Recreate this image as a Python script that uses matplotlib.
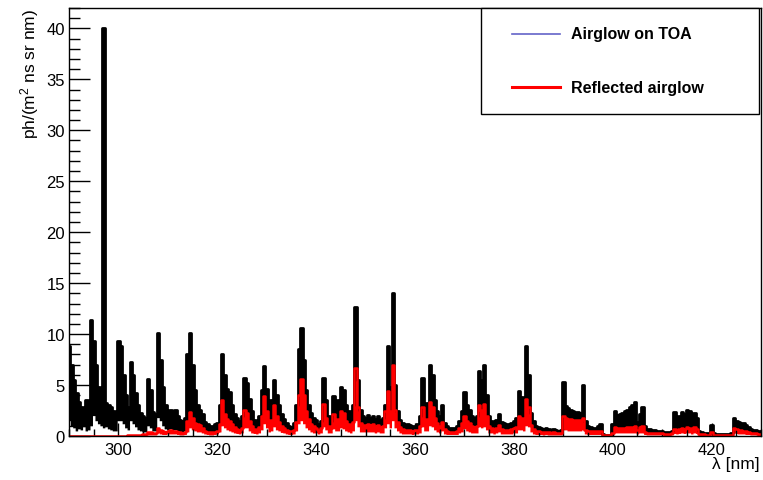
import numpy as np
import matplotlib
matplotlib.use("Agg")
import matplotlib.pyplot as plt
from matplotlib.lines import Line2D
from matplotlib.patches import Rectangle
from matplotlib.ticker import MultipleLocator

plt.rcParams["font.family"] = ["Liberation Sans", "DejaVu Sans"]
plt.rcParams["mathtext.default"] = "regular"

# histogram bin centres, 0.5 nm bins
wavelength = np.arange(290.0, 430.01, 0.5)

# airglow on top of atmosphere: upper / lower edge of the band
toa_hi = [
    8.8, 7.0, 5.5, 4.2, 3.3, 2.8, 2.5, 3.5, 2.0, 11.4,
    9.3, 7.0, 4.8, 3.4, 40.0, 3.2, 3.0, 2.8, 2.5, 2.0,
    9.3, 8.8, 6.0, 4.0, 2.8, 7.3, 6.0, 4.2, 3.0, 2.3,
    2.0, 1.8, 5.6, 4.5, 2.4, 2.2, 10.1, 7.5, 4.8, 3.0,
    2.2, 2.6, 2.2, 2.6, 2.0, 1.6, 1.5, 1.8, 8.0, 10.1,
    7.0, 4.5, 3.0, 2.6, 2.2, 1.4, 1.2, 1.0, 1.0, 1.2,
    1.3, 3.0, 8.0, 6.0, 4.6, 4.3, 3.0, 2.2, 1.8, 1.5,
    2.0, 5.7, 5.2, 3.6, 2.5, 1.6, 1.3, 2.0, 4.5, 6.9,
    4.6, 3.0, 3.5, 5.5, 4.0, 3.0, 2.2, 1.7, 1.3, 1.0,
    0.9, 1.3, 3.0, 8.5, 10.6, 7.5, 4.5, 3.0, 2.3, 1.8,
    1.6, 1.2, 1.5, 5.7, 3.5, 2.0, 1.5, 3.9, 2.8, 3.5,
    4.8, 4.5, 3.0, 2.5, 2.2, 3.0, 12.7, 5.5, 2.6, 2.0,
    1.8, 2.1, 1.8, 2.0, 1.7, 2.0, 1.6, 1.8, 3.0, 8.8,
    4.8, 14.0, 5.0, 2.5, 1.6, 1.3, 1.0, 1.2, 1.1, 1.0,
    1.0, 1.2, 2.0, 5.7, 3.0, 3.2, 7.0, 6.0, 3.5, 2.5,
    2.0, 3.0, 1.3, 1.0, 0.8, 0.8, 0.8, 1.0, 1.5, 2.5,
    4.3, 3.0, 2.6, 2.0, 1.8, 2.0, 6.4, 5.5, 7.0, 4.0,
    2.0, 1.5, 1.4, 1.6, 2.2, 1.4, 1.3, 1.2, 1.2, 1.3,
    1.5, 1.8, 4.4, 3.8, 3.5, 8.8, 6.0, 2.3, 1.5, 1.0,
    0.9, 0.8, 0.7, 0.8, 0.7, 0.6, 0.7, 0.6, 0.5, 0.6,
    5.3, 2.9, 2.7, 2.6, 2.5, 2.4, 2.4, 2.3, 5.0, 1.5,
    1.0, 0.9, 0.8, 0.8, 1.0, 1.2, 0.15, 0.1, 0.1, 0.1,
    1.2, 2.5, 2.1, 2.2, 2.3, 2.5, 2.6, 2.8, 3.0, 3.3,
    1.4, 2.2, 2.8, 1.0, 0.7, 0.7, 0.6, 0.6, 0.5, 0.5,
    0.5, 0.4, 0.4, 0.4, 0.5, 2.4, 1.8, 2.0, 2.4, 2.2,
    2.6, 2.5, 1.8, 2.3, 1.8, 0.5, 0.4, 0.3, 0.3, 0.3,
    1.1, 0.3, 0.2, 0.2, 0.2, 0.2, 0.2, 0.2, 0.3, 1.8,
    1.5, 1.4, 1.3, 1.3, 1.1, 0.9, 0.7, 0.6, 0.6, 0.5, 0.5,
]
toa_lo = [
    1.5, 1.0, 0.8, 0.5, 0.7, 0.6, 0.9, 0.5, 0.6, 1.0,
    2.0, 1.5, 1.2, 1.0, 0.8, 0.9, 0.7, 0.6, 0.5, 0.5,
    1.5, 1.5, 1.2, 0.8, 0.6, 1.5, 1.2, 0.9, 0.6, 0.5,
    0.4, 0.4, 1.0, 0.8, 0.5, 0.5, 1.8, 1.5, 1.0, 0.7,
    0.6, 0.7, 0.6, 0.6, 0.5, 0.4, 0.4, 0.5, 1.5, 2.0,
    1.5, 1.1, 1.0, 0.9, 0.7, 0.5, 0.4, 0.35, 0.35, 0.4,
    0.45, 1.0, 3.0, 1.9, 1.5, 1.3, 1.0, 0.8, 0.6, 0.5,
    0.7, 2.2, 2.0, 1.3, 0.9, 0.6, 0.5, 0.8, 1.7, 3.3,
    2.1, 1.1, 1.4, 2.6, 1.7, 1.2, 0.9, 0.7, 0.5, 0.45,
    0.4, 0.5, 1.2, 3.4, 4.8, 3.4, 2.1, 1.5, 1.0, 0.9,
    0.7, 0.5, 0.7, 2.6, 1.5, 0.9, 0.7, 1.9, 1.2, 1.5,
    2.1, 2.0, 1.3, 1.0, 0.9, 1.2, 5.7, 2.4, 1.1, 1.0,
    1.0, 1.0, 1.0, 1.0, 0.9, 1.0, 0.8, 0.9, 2.1, 3.7,
    2.1, 6.0, 2.2, 1.2, 0.8, 0.6, 0.5, 0.5, 0.5, 0.45,
    0.5, 0.5, 0.9, 2.4, 1.4, 1.5, 2.8, 2.4, 1.5, 1.1,
    0.9, 1.2, 0.6, 0.45, 0.35, 0.35, 0.35, 0.45, 0.7, 1.1,
    1.7, 1.3, 1.1, 0.9, 0.8, 0.9, 2.6, 2.2, 2.6, 1.7,
    0.9, 0.7, 0.6, 0.7, 0.9, 0.6, 0.5, 0.5, 0.5, 0.6,
    0.7, 0.8, 1.7, 1.5, 1.4, 3.1, 2.4, 0.9, 0.6, 0.45,
    0.4, 0.35, 0.3, 0.35, 0.3, 0.25, 0.3, 0.25, 0.25, 0.25,
    1.7, 1.5, 1.5, 1.5, 1.4, 1.4, 1.4, 1.4, 1.5, 0.5,
    0.45, 0.45, 0.4, 0.4, 0.4, 0.45, 0.05, 0.05, 0.05, 0.05,
    0.25, 0.8, 0.7, 0.7, 0.7, 0.7, 0.75, 0.8, 0.8, 0.9,
    0.5, 0.8, 0.9, 0.35, 0.25, 0.25, 0.25, 0.25, 0.2, 0.2,
    0.2, 0.15, 0.15, 0.15, 0.2, 0.6, 0.5, 0.6, 0.7, 0.6,
    0.8, 0.7, 0.5, 0.8, 0.6, 0.15, 0.1, 0.1, 0.08, 0.08,
    0.35, 0.08, 0.08, 0.08, 0.08, 0.08, 0.08, 0.08, 0.08, 0.7,
    0.6, 0.5, 0.5, 0.45, 0.4, 0.35, 0.25, 0.2, 0.2, 0.15, 0.15,
]

# airglow reflected by the ground/clouds
refl_hi = [
    0, 0, 0, 0, 0, 0, 0, 0, 0, 0,
    0, 0, 0, 0, 0, 0, 0, 0, 0, 0,
    0, 0, 0, 0, 0.05, 0.1, 0.1, 0.1, 0.1, 0.1,
    0.15, 0.15, 0.4, 0.4, 0.3, 0.3, 0.75, 0.6, 0.5, 0.4,
    0.5, 0.6, 0.5, 0.5, 0.4, 0.35, 0.3, 0.4, 1.5, 2.4,
    1.8, 1.3, 1.2, 1.1, 0.8, 0.5, 0.4, 0.35, 0.35, 0.4,
    0.5, 1.2, 3.5, 2.2, 1.7, 1.5, 1.2, 0.9, 0.7, 0.6,
    0.8, 2.6, 2.3, 1.5, 1.0, 0.7, 0.6, 0.9, 2.0, 3.9,
    2.5, 1.3, 1.6, 3.0, 2.0, 1.4, 1.0, 0.8, 0.6, 0.5,
    0.45, 0.6, 1.4, 4.0, 5.6, 4.0, 2.5, 1.7, 1.2, 1.0,
    0.8, 0.6, 0.8, 3.1, 1.8, 1.0, 0.8, 2.2, 1.4, 1.7,
    2.5, 2.3, 1.5, 1.2, 1.0, 1.4, 6.7, 2.8, 1.3, 1.1,
    1.1, 1.2, 1.1, 1.2, 1.0, 1.1, 0.9, 1.0, 2.5, 4.4,
    2.5, 7.0, 2.6, 1.4, 0.9, 0.7, 0.55, 0.6, 0.55, 0.5,
    0.55, 0.6, 1.0, 2.8, 1.6, 1.7, 3.3, 2.8, 1.8, 1.3,
    1.0, 1.4, 0.7, 0.5, 0.4, 0.4, 0.4, 0.5, 0.8, 1.3,
    2.0, 1.5, 1.3, 1.0, 0.9, 1.0, 3.0, 2.6, 3.1, 2.0,
    1.0, 0.8, 0.7, 0.8, 1.1, 0.7, 0.6, 0.6, 0.6, 0.7,
    0.8, 0.9, 2.0, 1.8, 1.6, 3.6, 2.8, 1.1, 0.7, 0.5,
    0.45, 0.4, 0.35, 0.4, 0.35, 0.3, 0.35, 0.3, 0.3, 0.3,
    2.0, 1.8, 1.7, 1.7, 1.6, 1.6, 1.6, 1.6, 1.8, 0.6,
    0.5, 0.5, 0.45, 0.45, 0.45, 0.5, 0.05, 0.05, 0.05, 0.05,
    0.3, 0.9, 0.8, 0.8, 0.8, 0.8, 0.85, 0.9, 0.9, 1.0,
    0.6, 0.9, 1.0, 0.4, 0.3, 0.3, 0.3, 0.3, 0.25, 0.25,
    0.25, 0.2, 0.2, 0.2, 0.25, 0.7, 0.6, 0.7, 0.8, 0.7,
    0.9, 0.8, 0.6, 0.9, 0.7, 0.2, 0.15, 0.15, 0.1, 0.1,
    0.4, 0.1, 0.1, 0.1, 0.1, 0.1, 0.1, 0.1, 0.1, 0.8,
    0.7, 0.6, 0.6, 0.5, 0.45, 0.4, 0.3, 0.25, 0.25, 0.2, 0.2,
]
refl_lo = [
    0, 0, 0, 0, 0, 0, 0, 0, 0, 0,
    0, 0, 0, 0, 0, 0, 0, 0, 0, 0,
    0, 0, 0, 0, 0, 0.02, 0.03, 0.03, 0.03, 0.03,
    0.05, 0.05, 0.1, 0.1, 0.1, 0.1, 0.3, 0.2, 0.15, 0.15,
    0.2, 0.2, 0.2, 0.2, 0.15, 0.1, 0.1, 0.15, 0.4, 0.8,
    0.6, 0.5, 0.4, 0.4, 0.3, 0.2, 0.15, 0.1, 0.1, 0.15,
    0.2, 0.4, 1.0, 0.8, 0.6, 0.5, 0.4, 0.3, 0.25, 0.2,
    0.3, 0.8, 0.8, 0.5, 0.3, 0.25, 0.2, 0.3, 0.6, 1.2,
    0.8, 0.4, 0.5, 0.9, 0.6, 0.5, 0.35, 0.3, 0.2, 0.15,
    0.15, 0.2, 0.5, 1.2, 1.5, 1.2, 0.8, 0.6, 0.4, 0.3,
    0.3, 0.2, 0.3, 0.9, 0.6, 0.3, 0.3, 0.7, 0.5, 0.5,
    0.8, 0.7, 0.5, 0.4, 0.3, 0.5, 1.5, 0.9, 0.4, 0.4,
    0.4, 0.4, 0.4, 0.4, 0.3, 0.4, 0.3, 0.3, 0.8, 1.2,
    0.8, 1.5, 0.8, 0.5, 0.3, 0.2, 0.2, 0.2, 0.2, 0.15,
    0.2, 0.2, 0.3, 0.9, 0.5, 0.5, 1.0, 0.9, 0.6, 0.4,
    0.3, 0.5, 0.2, 0.15, 0.15, 0.15, 0.15, 0.15, 0.3, 0.4,
    0.7, 0.5, 0.4, 0.3, 0.3, 0.3, 0.9, 0.8, 0.9, 0.6,
    0.3, 0.3, 0.2, 0.3, 0.4, 0.2, 0.2, 0.2, 0.2, 0.2,
    0.3, 0.3, 0.6, 0.6, 0.5, 1.0, 0.9, 0.4, 0.2, 0.15,
    0.15, 0.15, 0.1, 0.15, 0.1, 0.1, 0.1, 0.1, 0.1, 0.1,
    0.6, 0.6, 0.5, 0.5, 0.5, 0.5, 0.5, 0.5, 0.6, 0.2,
    0.15, 0.15, 0.15, 0.15, 0.15, 0.15, 0.0, 0.0, 0.0, 0.0,
    0.1, 0.3, 0.3, 0.3, 0.3, 0.3, 0.3, 0.3, 0.3, 0.3,
    0.2, 0.3, 0.3, 0.15, 0.1, 0.1, 0.1, 0.1, 0.1, 0.1,
    0.1, 0.05, 0.05, 0.05, 0.1, 0.25, 0.2, 0.25, 0.3, 0.25,
    0.3, 0.3, 0.2, 0.3, 0.25, 0.05, 0.05, 0.05, 0.0, 0.0,
    0.1, 0.0, 0.0, 0.0, 0.0, 0.0, 0.0, 0.0, 0.0, 0.3,
    0.25, 0.2, 0.2, 0.2, 0.15, 0.15, 0.1, 0.1, 0.1, 0.05, 0.05,
]

series_labels = ["Airglow on TOA", "Reflected airglow"]
W, H = 763, 481


def fig_xy(x, y):
    # pixel position (from top-left) -> figure fraction
    return x / W, 1 - y / H


fig = plt.figure(figsize=(W / 100, H / 100), dpi=100)
ax = fig.add_axes([69 / W, 44 / H, 692 / W, 428 / H])

ax.fill_between(wavelength, toa_lo, toa_hi, step="mid", color="black", lw=0)
ax.step(wavelength, toa_hi, where="mid", color="black", lw=2.0)
ax.fill_between(wavelength, refl_lo, refl_hi, step="mid", color="red", lw=0)
ax.step(wavelength, refl_hi, where="mid", color="red", lw=1.8)

ax.set_xlim(290, 430)
ax.set_ylim(0, 42)
ax.xaxis.set_major_locator(MultipleLocator(20))
ax.xaxis.set_minor_locator(MultipleLocator(5))
ax.yaxis.set_major_locator(MultipleLocator(5))
ax.yaxis.set_minor_locator(MultipleLocator(1))
ax.tick_params(which="both", direction="in", top=False, right=False,
               labelsize=12, width=1)
ax.tick_params(axis="y", which="major", length=15, pad=3)
ax.tick_params(axis="y", which="minor", length=8)
ax.tick_params(axis="x", which="major", length=9.5, pad=4.5)
ax.tick_params(axis="x", which="minor", length=4.7)
for sp in ax.spines.values():
    sp.set_linewidth(1)

fig.text(*fig_xy(30, 9), "ph/(m$^{2}$ ns sr nm)", rotation=90,
         ha="center", va="top", fontsize=12.5)
fig.text(*fig_xy(760, 465), "λ [nm]", ha="right", va="center", fontsize=12.5)

# legend box in ROOT style
x0, y0 = fig_xy(481, 115)
x1, y1 = fig_xy(759, 9)
fig.add_artist(Rectangle((x0, y0), x1 - x0, y1 - y0, transform=fig.transFigure,
                         facecolor="white", edgecolor="black", lw=1))
for (ly, col, lw), label in zip([(35, "#6464c8", 1.2), (88, "red", 2.2)],
                                series_labels):
    xa, ya = fig_xy(512, ly)
    xb, _ = fig_xy(560, ly)
    fig.add_artist(Line2D([xa, xb], [ya, ya], transform=fig.transFigure,
                          color=col, lw=lw))
    fig.text(*fig_xy(571, ly), label, ha="left", va="center",
             fontsize=11.5, fontweight="bold")

fig.savefig("out.png", dpi=100)
